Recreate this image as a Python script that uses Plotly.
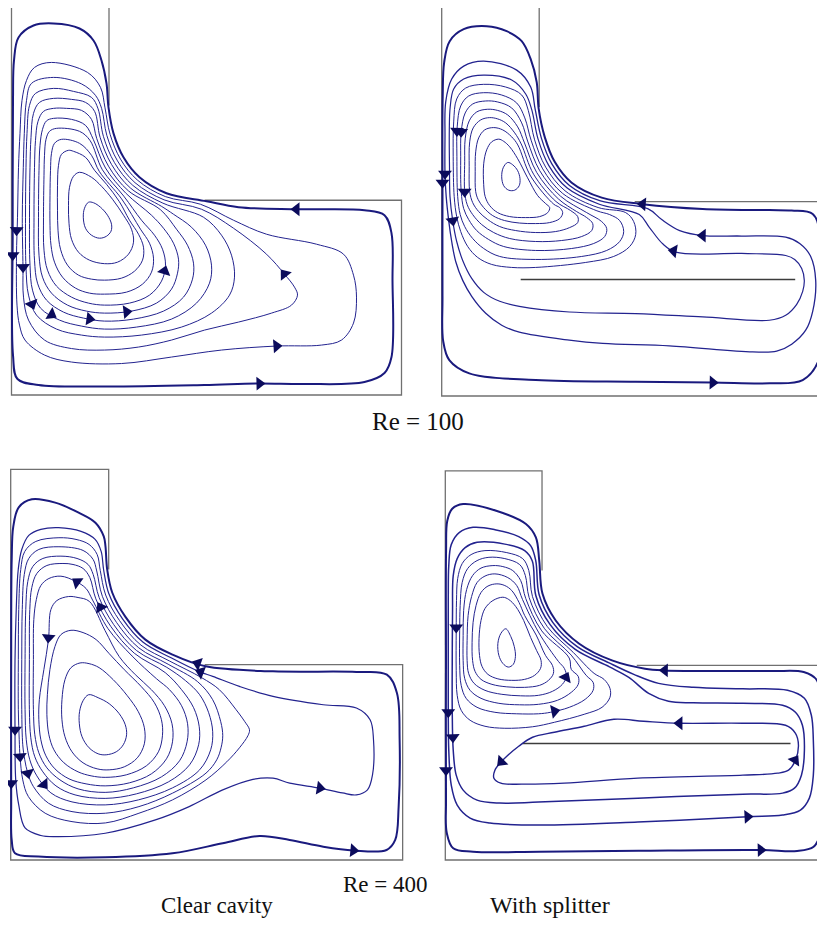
import math
import plotly.graph_objects as go

PAGE_W, PAGE_H = 825, 932
BODY_MARGIN = 8                      # default <body> margin of the written page
FIG_W, FIG_H = PAGE_W - BODY_MARGIN, PAGE_H - BODY_MARGIN

# ---------------- geometry (cavity units: width = height = 390) ----------------
# outline drawn open in the step corner, where the outer streamline bounds the flow
CAVITY_X = [97.5, 97.5, 0, 0, 390, 390, 193]
CAVITY_Y = [290, 390, 390, 0, 0, 195, 195]
SPLITTER100_X = [79, 353.5]
SPLITTER100_Y = [117, 117]
SPLITTER400_X = [78, 348]
SPLITTER400_Y = [116.7, 116.7]

LABELS = ["Re = 100", "Re = 400", "Clear cavity", "With splitter"]

# ---------------- Re = 100, clear cavity ----------------
C100_L1 = [(42,372),(22,370),(7,358),(2.5,335),(1.5,295),(1.2,160),(1.5,40),(6,16),(27,10),(93,8.5),(193,10),(247,11.5),(293,11),(353,13),(373,22),(380,38),(381,115),(380,162),(373,180),(353,185),(287,186),(227,188),(195,194),(155,202),(128,218),(112,238),(102,262),(97,288),(95,312),(90,335),(82,355),(68,367),(42,372)]
C100_L2 = [(40,333),(23,328),(15,315),(10.5,295),(8.5,262),(7,228),(6,178),(5,140),(5.5,90),(8,70),(13.5,55),(33,40),(60,33),(110,31.5),(160,38),(210,45),(265,49),(310,50),(330,55),(342,72),(345,98),(342,120),(332,141),(305,151),(255,161),(222,175),(189,191),(153.8,198.7),(125.8,215.3),(109,236.2),(98.6,261),(93.5,287.5),(89,308),(76,323),(40,333)]
C100_L3 = [(42,318),(20,312),(15,295),(12.8,262),(11.8,228),(10.8,178),(11.5,128),(12,98),(17,75),(33,55),(60,46.5),(93,45),(127,48),(160,55),(193,65),(227,73),(260,82),(280,90),(286,100),(283,108),(273,121),(255,141),(222,167),(190,186),(152.6,195.4),(123.5,212.6),(106,234.4),(95.3,260),(90.1,287),(84,300),(70,311.5),(42,318)]
C100_L4 = [(42,307),(24,302),(18,290),(15.5,262),(14.5,228),(14,178),(14.5,128),(17,100),(25,80),(45,66),(70,60),(93,58),(130,60),(170,68),(200,82),(218,100),(223,118),(220,140),(210,160),(192,178),(151.4,192.1),(121.3,209.9),(103,232.6),(91.9,259),(86.6,286.5),(80,298),(62,304),(42,307)]
C100_L5 = [(42,297),(28,293),(22,282),(19.5,258),(18.5,228),(18,178),(18.5,130),(21,105),(29,87),(48,75),(70,69),(93,66),(125,68),(160,76),(185,92),(198,112),(200,130),(194,150),(180,168),(162,181),(150.2,188.8),(119,207.2),(100,230.9),(88.6,258),(83.1,284),(74,293),(60,296),(42,297)]
C100_L6 = [(42,287),(32,284),(26.5,274),(24,255),(23,228),(22.5,178),(23,135),(26,112),(35,95),(52,83),(72,77),(93,74),(122,76),(152,84),(172,98),(181,116),(182,132),(176,150),(165,166),(149,185.5),(116.8,204.5),(97,229.1),(85.2,256.9),(80,276),(70,285),(55,287),(42,287)]
C100_L7 = [(42,277),(35,274.5),(31,266),(28.5,250),(27.5,225),(27,178),(27.5,140),(31,118),(40,102),(56,90),(75,84),(93,82),(120,84),(145,92),(160,106),(166,122),(167,136),(162,152),(152,167),(140,180),(114.6,201.8),(94,227.3),(81.8,255.9),(74,270),(60,276),(42,277)]
C100_L8 = [(45,267),(38,264),(34.5,256),(33,240),(32.5,220),(32,178),(32.5,145),(36,125),(45,109),(60,98),(77,92),(93,90),(118,92),(138,100),(150,114),(154,130),(151,146),(143,160),(130,175),(112.3,199.1),(90.9,225.5),(78.5,254.9),(68,264),(45,267)]
C100_L9 = [(50,256),(43,252),(40,242),(39,225),(38.5,200),(38.5,170),(39.5,150),(43,133),(51,118),(64,107),(78,102),(93,101),(115,103),(131,111),(140,123),(142,137),(138,152),(129,166),(110.1,196.4),(87.9,223.7),(80,240),(68,252),(50,256)]
C100_L10 = [(57,245),(50,241),(47,230),(46,210),(46,185),(46.5,165),(49,146),(56,130),(67,120),(80,116),(93,115),(110,117),(123,124),(131,135),(132,148),(127,161),(118,175),(107.8,193.7),(95,211),(83,225),(74,238),(62,244),(57,245)]
C100_L11 = [(68,223),(62,219),(58,208),(57,190),(57.5,172),(60,156),(67,143),(78,135),(93,131.5),(106,133),(117,141),(122,153),(120,166),(112,180),(101,196),(90,209),(80,218),(68,223)]
C100_L12 = [(77,193),(73,187),(71.8,178),(74,167),(80,160),(88,157),(95,159),(99.5,164),(100,171),(96,180),(89,188),(82,192.5),(77,193)]
C100_LINES = [C100_L1, C100_L2, C100_L3, C100_L4, C100_L5, C100_L6, C100_L7, C100_L8, C100_L9, C100_L10, C100_L11, C100_L12]
C100_ARROWS = [((1.2,150),(1.2,140)), ((238,11.3),(248,11.5)), ((295,186),(285,186)),
               ((5.3,175),(5.1,165)), ((255,48.3),(265,49)), ((11.3,138),(11.5,128)),
               ((280,112),(273,121)), ((17,100),(20.5,91)), ((29,87),(40,80.5)),
               ((70,77.3),(78,76.2)), ((105,82.2),(115,83.3)), ((150,114),(153,124))]

# ---------------- Re = 100, with splitter ----------------
S100_L1 = [(45,371),(22,368),(8,356),(2.5,335),(1,300),(0.8,200),(0.8,100),(1.5,55),(7.6,36),(27.6,22.7),(94,16),(194,14.3),(271,13.5),(328,12.7),(361,16),(377,36),(380,96),(378.3,162.7),(371,182.7),(350,186),(327.6,186.5),(261,187.7),(201,192.5),(160,199),(130,214),(113,235),(103,260),(97,288),(95,315),(89,338),(80,356),(65,366),(45,371)]
S100_L2 = [(42,336),(22,331),(10,318),(4,295),(3.3,260),(3.3,223),(4.5,200),(7,176),(10,155),(14,135),(21,116),(30,100),(44,83),(60,71),(77.6,64),(127.6,56),(161,52.7),(227.6,50.3),(311,44.3),(335,45),(350,52),(364,66),(371,85),(374,116),(369,140),(358,153),(344,159.3),(300,160.5),(261,161),(238,166),(220,177),(206,188),(158.8,195.7),(127.8,211.3),(110,233.2),(99.6,259),(93.5,287.5),(89,310),(75,327),(42,336)]
S100_L3 = [(42,322),(22,318),(12,308),(8.5,290),(7.6,266),(7.8,230),(8.3,200),(11,176),(15,155),(21,136),(30,118),(42,104),(58,95),(77.6,90),(127.6,84.3),(194,82.7),(261,79.3),(327.6,76),(344,81),(355,92),(361,105),(362.6,116),(360,128),(353,137),(344,141),(300,143),(234,144.3),(221,152.7),(207.6,169.3),(197.6,182),(157.6,192.4),(125.5,208.6),(107,231.4),(96.3,258),(90.1,287),(84,303),(70,317),(42,322)]
S100_V1 = [(42,312.7),(24,309),(15,298),(12,275),(11.5,240),(12.5,200),(15,180),(19,165),(26,150),(36,139),(50,132),(70,129),(94,129),(144,134),(172,140),(188,150),(194,162),(192,175),(184,184),(156.4,189.1),(123.3,205.9),(104,229.6),(92.9,257),(86.6,286.5),(80,302),(64,310),(42,312.7)]
S100_V2 = [(42,304.3),(27,301),(19,291),(15.5,270),(15.2,240),(16,200),(18.5,182),(23,170),(31,158),(42,148),(58,140),(94,137),(140,140),(165,146),(178,155),(182,165),(178,176),(168,182),(155.2,185.8),(121,203.2),(101,227.9),(89.6,256),(83.1,279),(75,294),(60,302),(42,304.3)]
S100_V3 = [(44,296),(31,293),(23.5,284),(19.5,265),(19,240),(19.5,205),(22,188),(27,177),(35,166),(47,157),(62,150),(94,146),(130,148),(152,153),(163,160),(165,168),(160,175),(145,184),(118.8,200.5),(98,226.1),(86.2,254.9),(80,274),(70,289),(56,295),(44,296)]
S100_V4 = [(46,287.7),(35,285),(27.5,276),(23.5,258),(23,235),(23,205),(25.5,192),(31,182),(40,172),(52,164),(68,158),(94,155),(120,156),(140,160),(150,166),(151,173),(145,179),(135,185),(116.6,197.8),(95,224.3),(82.8,253.9),(76,270),(66,282),(56,286.5),(46,287.7)]
S100_V5 = [(48,279.3),(39,277),(31.5,269),(28,255),(27.5,230),(28,205),(31,194),(37,185),(46,177),(58,170),(74,166),(94,164),(114,165),(128,169),(136,174),(136,180),(129,186),(114.3,195.1),(91.9,222.5),(79.5,252.9),(73,264),(64,274),(56,278),(48,279.3)]
S100_V6 = [(52,269.3),(43,267),(37,259),(34,245),(33.5,225),(34,205),(36.5,197),(42,189),(51,181),(63,176),(78,173.5),(94,173),(108,174),(118,178),(121,184),(118,189),(112.1,192.4),(88.9,220.7),(76.1,251.9),(70,260),(61,267),(52,269.3)]
S100_V7 = [(57,257.7),(50,255),(45,247),(42,233),(42,212),(43.5,200),(48,191),(56,184),(68,180),(84,179),(98,180),(106,184),(108,189),(104,193),(96,201),(85.9,218.9),(76,238),(68,250),(62,255.5),(57,257.7)]
S100_V8 = [(66,234.3),(61.5,229),(60,220),(62,211),(67,206.5),(73,206.5),(77.5,211),(78.3,218),(76,226),(71,232),(66,234.3)]
S100_LINES = [S100_L1, S100_L2, S100_L3, S100_V1, S100_V2, S100_V3, S100_V4, S100_V5, S100_V6, S100_V7, S100_V8]
S100_ARROWS = [((0.8,224),(0.8,214)), ((261,13.7),(271,13.5)), ((211,191.7),(201,192.5)),
               ((3.3,233),(3.3,223)), ((271,160.9),(261,161)), ((9.5,186),(11,176)),
               ((240,144.2),(232,145.5)), ((15.4,276),(15.3,266)), ((19.8,276),(19.5,265)),
               ((23,215),(23,205))]

# ---------------- Re = 400, clear cavity ----------------
C400_L1 = [(21,360),(8,352),(2.6,333),(1,300),(0.5,200),(0.5,60),(1,20),(4.3,6.7),(27.6,3.5),(94,2.7),(161,6.7),(211,16.7),(247.6,24),(277.6,20),(311,13.3),(341,9.5),(374,10),(382.6,20),(386,53),(387,120),(384.3,166.7),(374.3,185),(344,187.7),(261,188.3),(194,193.3),(161,205),(134,220),(114,243),(101,267),(96,290),(94.3,313),(92.6,323),(84.3,336.7),(67.6,346.7),(44.3,356.7),(21,360)]
C400_L2 = [(47.6,331.7),(30,330),(18,324),(11,310),(7.5,290),(5.5,250),(4.3,200),(4.3,130),(5,80),(8,55),(14.3,32),(30,24.5),(44,23.3),(94,26.7),(144,40),(177.6,53.3),(211,70),(241,80.5),(261,81.7),(277.6,76.7),(307.6,71.7),(330,67),(344,65),(355,70),(360,85),(361,120),(357.6,140),(344,151.7),(311,155),(261,163.3),(227.6,173.3),(201,183.3),(187.6,188),(159.6,201.8),(131.8,217.3),(111.1,241),(97.7,265.7),(92.5,289.5),(90,308),(84,320),(70,328),(47.6,331.7)]
C400_V1 = [(48,321.7),(25,318),(14,308),(10,290),(8,250),(7.6,200),(7.6,150),(8.5,120),(9.3,103.3),(12,80),(17.6,63.3),(34.3,46.7),(61,38.3),(94.3,37),(127.6,46.7),(161,60),(194.3,80),(215,98),(227.6,112),(236,124),(237.6,130),(233,138),(224.3,150),(207.6,170),(190,182),(158.1,198.6),(129.6,214.5),(108.3,239),(94.5,264.5),(89.1,289),(86,305),(78,315),(65,320),(48,321.7)]
C400_V2 = [(48,312.7),(28,310),(18,301),(13.5,285),(11.5,250),(11,200),(11,150),(12,115),(14,100),(17,86.7),(22.6,73.3),(37.6,56.7),(61,48.3),(94.3,46.7),(127.6,53.3),(161,66.7),(194.3,86.7),(205,100),(209.3,112),(211,124),(209,138),(201,160),(186,178),(156.7,195.4),(127.4,211.8),(105.4,237),(91.2,263.2),(85.6,288.5),(82,300),(72,309),(48,312.7)]
C400_V3 = [(50,303.3),(32,301),(22,293),(17,278),(15,250),(14.3,200),(14.3,150),(15.5,120),(19,100),(26,84),(40,67),(61,58),(94,55),(127,60),(161,72),(188,90),(199,110),(201,128),(197,147),(188,165),(174,179),(155.3,192.3),(125.2,209.1),(102.5,235),(88,262),(82.1,285),(77,295),(66,301),(50,303.3)]
C400_V4 = [(52,296),(36,294),(26,286),(21,272),(19,250),(18.6,200),(18.6,150),(20,122),(24,103),(32,88),(45,74),(64,65),(94,61.5),(125,66),(157,78),(178,95),(187,115),(187.6,133),(182,152),(170,170),(153.8,187),(123,206.4),(99.7,233),(84.7,260.7),(78.7,282),(72,291),(62,295),(52,296)]
C400_V5 = [(50,283.3),(38,281),(30,274),(25.5,260),(23,240),(22.6,200),(22.6,150),(24,125),(28,107),(36,92),(49,80),(67,71),(94,67.5),(122,72),(150,83),(168,99),(175.5,118),(176,136),(170,154),(158,170),(145,181),(120.8,203.6),(96.8,231),(81.5,259.4),(75,271),(64.3,278.3),(50,283.3)]
C400_V6 = [(57.6,263),(46,259),(40,250),(37.6,220),(33,190),(28.5,160),(28,140),(30,120),(35,104),(44,91),(58,81),(75,76),(94,74),(118,77),(140,86),(155,101),(161,118),(160.5,136),(153,154),(140,170),(124,185),(108,203),(93.9,229),(78.2,258.2),(67,262),(57.6,263)]
C400_V7 = [(60,229.3),(50,225),(44,213),(39,190),(36.5,165),(36,145),(38,125),(43,110),(53,97),(67,88),(80,84),(94,82.5),(115,85),(135,94),(147,108),(151,124),(150,140),(143,157),(130,173),(113,190),(98,206),(85,220),(72,227),(60,229.3)]
C400_V8 = [(69,196.7),(60,192),(54,180),(51,160),(51,140),(54,123),(61,108),(72,97),(86,91),(98,90),(113,93),(126,102),(133,116),(133,132),(127,148),(116,164),(102,180),(88,192),(78,196),(69,196.7)]
C400_V9 = [(77.6,165),(72,159),(68.5,148),(68.3,136),(71,123),(78,112),(87,106),(95,105),(105,108),(112,115),(115.3,125),(114,135),(108,146),(98,156),(87,162),(77.6,165)]
C400_LINES = [C400_L1, C400_L2, C400_V1, C400_V2, C400_V3, C400_V4, C400_V5, C400_V6, C400_V7, C400_V8, C400_V9]
C400_ARROWS = [((0.5,86.7),(0.5,76.7)), ((331,10.5),(341,9.5)), ((194,193.3),(186,196.2)),
               ((4.3,140),(4.3,130)), ((297,73.4),(307.6,71.7)), ((197,184.5),(189,187.5)),
               ((8.7,113),(9.3,103.3)), ((14,100),(17,86.7)), ((26,84),(33,75.5)),
               ((75,271),(66,277.5)), ((94,244),(89.4,252)), ((39,238),(37.6,222))]

# ---------------- Re = 400, with splitter ----------------
S400_L1 = [(18,356.7),(7,352),(2,340),(0.8,310),(0.7,200),(0.7,60),(1.5,27),(8,11.7),(28,8.3),(94.7,8.3),(194.7,9.3),(318,10),(354.7,9),(371.3,13.3),(378,26.7),(378.5,100),(378,153.3),(374.7,180),(361.3,188.3),(328,189.3),(221.3,190),(201.3,191.7),(168,200),(135,216.7),(111.3,240),(98,266.7),(94.7,300),(91.3,323.3),(81.3,336.7),(51.3,350),(18,356.7)]
S400_S1 = [(28,333.3),(14,328),(6,316),(3.5,295),(3,260),(3,200),(3,148),(3.5,110),(6,75),(12,55),(25,42),(45,37),(94,35),(194,38),(304.7,43.3),(340,45),(358,50),(367,62),(371,85),(371,120),(369,145),(362,162),(345,170),(300,171.5),(250,173),(215,177),(190,186),(166.8,196.7),(133,213.8),(108.5,237.9),(94.6,265.8),(91.2,299.8),(86,315),(74,324),(50,331),(28,333.3)]
S400_S2 = [(32,318.3),(20,313),(12,302),(8,285),(7.3,250),(7,200),(7,150),(8,110),(11,85),(18,70),(32,60),(55,57),(94,58),(194,62),(300,66),(340,67),(352,72),(359,85),(362,110),(360,135),(353,148),(340,155),(300,157),(250,157.5),(225,159),(205,167),(185,183),(165.5,193.5),(131,211),(105.7,235.8),(91.3,264.8),(87.7,299.6),(80,310),(60,316.5),(32,318.3)]
S400_S3 = [(170,141),(140,134),(110,128),(88,123),(74,114),(62,104),(56,98),(50,90),(49,82),(56,77),(78,76),(120,77),(194,82),(300,85),(335,87),(346,90),(353,100),(356,115),(353,127),(343,135),(300,137),(236,137),(200,139),(170,141)]
S400_V1 = [(40,310),(26,306),(17,297),(12.5,282),(11.3,260),(11,230),(11,190),(12,165),(16,150),(25,140),(40,134),(60,132),(88,133.5),(110,138),(140,146),(158,153),(166,163),(166,172),(160,181),(150,187),(128.9,208.1),(102.9,233.8),(87.9,263.9),(84.2,290),(78,302),(62,308),(40,310)]
S400_V2 = [(44,303.3),(32,300),(22.5,292),(17,278),(15,255),(14.5,230),(14.5,195),(16,175),(21,162),(32,153),(50,148),(72,146.5),(94,146.5),(106,148),(125,153),(141,161),(149,170),(149,178),(142,185),(126.9,205.3),(100.1,231.7),(84.5,263),(80.7,285),(75,296),(60,302),(44,303.3)]
S400_V3 = [(48,295),(36,292.5),(27.5,285),(21.5,271),(18.5,250),(18,225),(18,200),(19.5,182),(25,170),(36,162),(54,157),(75,155.5),(94,156),(113,160),(127,168),(134,176),(134,184),(127,191),(124.9,202.4),(97.2,229.6),(81.1,262),(76,280),(68,290),(58,294),(48,295)]
S400_V4 = [(50,286.7),(40,284.5),(32,278),(26.5,264),(23,245),(22,220),(22,200),(23.5,187),(29,177),(40,170),(57,166),(76,164.5),(94,165),(108,169),(118,176),(122,184),(120,192),(114,199),(94.4,227.5),(77.8,261.1),(72,275),(63,283),(50,286.7)]
S400_V5 = [(52,276.7),(43,274.5),(36,268),(31,255),(28,238),(27,218),(27.5,200),(30,189),(36,181),(47,176),(62,173.5),(80,173),(95,175),(104,180),(109,187),(108,195),(101,205),(91.6,225.4),(80,245),(74.4,258),(67,270),(60,275),(52,276.7)]
S400_V6 = [(58,263.3),(48,260),(40,252),(36,240),(34,222),(34.5,205),(37,194),(43,186),(53,181.5),(67,180),(80,181),(90,185),(96,192),(96.5,200),(92,210),(86,223),(79,240),(71,254),(64,261),(58,263.3)]
S400_V7 = [(61,231.7),(56,227),(53,217),(54,205),(58,197),(63.5,193.3),(68.5,196),(70.7,204),(69.5,214),(66,224),(61,231.7)]
S400_LINES = [S400_L1, S400_S1, S400_S2, S400_S3, S400_V1, S400_V2, S400_V3, S400_V4, S400_V5, S400_V6, S400_V7]
S400_ARROWS = [((0.7,100),(0.7,90)), ((308,9.8),(318,10)), ((231,189.9),(221.3,190)),
               ((3,158),(3,148)), ((295,42.8),(304.7,43.3)), ((7.2,135),(7.6,123)),
               ((62,104),(56.5,98.5)), ((346,90),(352.5,100)), ((246,137),(236,137)),
               ((11,243),(11,233)), ((100,147),(110,149)), ((118,176),(121.5,183))]

# ---------------- styling / placement ----------------
LINE_COLOR = "#23238f"
OUTER_COLOR = "#1a1a7e"
ARROW_COLOR = "#0b0b5c"
BOX_COLOR = "#707070"

# panel placement in page pixels: box left, box bottom, px per cavity unit (x, y)
PANELS = [
    dict(lines=C100_LINES, arrows=C100_ARROWS, splitter=None, left=11.5, bottom=395, sx=1.0, sy=0.9987,
         widths=[2.0] + [1.0] * 11),
    dict(lines=S100_LINES, arrows=S100_ARROWS, splitter=(SPLITTER100_X, SPLITTER100_Y), left=441.7, bottom=396,
         sx=1.0, sy=0.9967, widths=[2.0, 1.3, 1.2] + [1.0] * 8),
    dict(lines=C400_LINES, arrows=C400_ARROWS, splitter=None, left=10.7, bottom=860, sx=1.005, sy=1.0018,
         widths=[2.0, 1.2] + [1.0] * 9),
    dict(lines=S400_LINES, arrows=S400_ARROWS, splitter=(SPLITTER400_X, SPLITTER400_Y), left=445.3, bottom=860,
         sx=0.992, sy=0.998, widths=[2.0, 1.5, 1.5, 1.4] + [1.0] * 7),
]

fig = go.Figure()
layout = dict(width=FIG_W, height=FIG_H, margin=dict(l=0, r=0, t=0, b=0),
              paper_bgcolor="white", plot_bgcolor="rgba(0,0,0,0)", showlegend=False)

for i, p in enumerate(PANELS, start=1):
    suf = "" if i == 1 else str(i)
    xr = "x" + suf
    yr = "y" + suf
    left = p["left"] - BODY_MARGIN
    bottom = p["bottom"] - BODY_MARGIN
    x_lo = -4
    x_hi = min(394, (FIG_W - left) / p["sx"])
    y_lo, y_hi = -4, 394
    dx0 = (left + p["sx"] * x_lo) / FIG_W
    dx1 = min(1.0, (left + p["sx"] * x_hi) / FIG_W)
    dy0 = 1 - (bottom - p["sy"] * y_lo) / FIG_H
    dy1 = 1 - (bottom - p["sy"] * y_hi) / FIG_H
    if dy1 > 1:
        y_hi = bottom / p["sy"]
        dy1 = 1.0
    if dx0 < 0:
        x_lo = -left / p["sx"]
        dx0 = 0.0
    layout["xaxis" + suf] = dict(domain=[dx0, dx1], range=[x_lo, x_hi], visible=False,
                                 fixedrange=True, anchor=yr)
    layout["yaxis" + suf] = dict(domain=[dy0, dy1], range=[y_lo, y_hi], visible=False,
                                 fixedrange=True, anchor=xr)

    fig.add_trace(go.Scatter(x=CAVITY_X, y=CAVITY_Y, mode="lines",
                             line=dict(color=BOX_COLOR, width=1.3), xaxis=xr, yaxis=yr, hoverinfo="skip"))
    if p["splitter"]:
        fig.add_trace(go.Scatter(x=p["splitter"][0], y=p["splitter"][1], mode="lines",
                                 line=dict(color="#3c3c3c", width=1.5), xaxis=xr, yaxis=yr, hoverinfo="skip"))
    for k, (pts, w) in enumerate(zip(p["lines"], p["widths"])):
        fig.add_trace(go.Scatter(x=[q[0] for q in pts], y=[q[1] for q in pts], mode="lines",
                                 line=dict(color=OUTER_COLOR if k == 0 else LINE_COLOR, width=w,
                                           shape="spline", smoothing=1.0),
                                 xaxis=xr, yaxis=yr, hoverinfo="skip"))
    ax, ay, ang = [], [], []
    for (t, h) in p["arrows"]:
        ax.append(h[0])
        ay.append(h[1])
        ang.append(math.degrees(math.atan2((h[0] - t[0]) * p["sx"], (h[1] - t[1]) * p["sy"])))
    fig.add_trace(go.Scatter(x=ax, y=ay, mode="markers",
                             marker=dict(symbol="triangle-up", size=12, color=ARROW_COLOR, angle=ang,
                                         line=dict(width=0)),
                             xaxis=xr, yaxis=yr, hoverinfo="skip", cliponaxis=False))

# label centres in page pixels (x, y) and font size
TEXT_POS = [(418, 421, 25), (385, 884, 23), (217, 905, 23), (550, 905, 24)]
annotations = []
for txt, (px, py, fs) in zip(LABELS, TEXT_POS):
    annotations.append(dict(text=txt, x=(px - BODY_MARGIN) / FIG_W, y=1 - (py - BODY_MARGIN) / FIG_H,
                            xref="paper", yref="paper", showarrow=False, xanchor="center", yanchor="middle",
                            font=dict(family="Liberation Serif, Times New Roman, serif", size=fs,
                                      color="#111111")))
layout["annotations"] = annotations
fig.update_layout(**layout)
fig.write_html("out.html")
